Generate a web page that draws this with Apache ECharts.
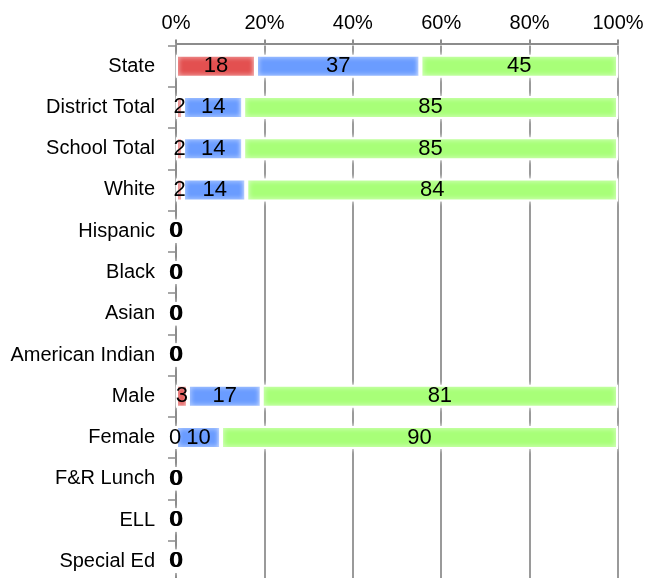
<!DOCTYPE html>
<html>
<head>
<meta charset="utf-8">
<script src="https://cdn.jsdelivr.net/npm/echarts@6/dist/echarts.min.js"></script>
<style>
  html, body { margin: 0; padding: 0; background: #fff; }
  #myChart { width: 646px; height: 578px; }
</style>
</head>
<body>
<div id="myChart"></div>
<script>
// rows, top to bottom
var categories = ['State', 'District Total', 'School Total', 'White', 'Hispanic', 'Black',
                  'Asian', 'American Indian', 'Male', 'Female', 'F&R Lunch', 'ELL', 'Special Ed'];
// percent of students in each band (labels show the rounded value)
var redVals   = [18.1, 1.6, 1.6, 1.6, 0, 0, 0, 0, 2.7, 0, 0, 0, 0];
var blueVals  = [37.2, 13.6, 13.6, 14.3, 0, 0, 0, 0, 16.7, 10.2, 0, 0, 0];
var greenVals = [44.7, 84.8, 84.8, 84.1, 0, 0, 0, 0, 80.6, 89.8, 0, 0, 0];
var xTicks = [0, 20, 40, 60, 80, 100];

var font = 'Liberation Sans, Arial, sans-serif';

function makeSeries(name, vals, color, zeroShift) {
    // zero labels of the three series sit almost on top of each other
    var data = vals.map(function (v) {
        return v === 0 ? { value: v, label: { offset: [zeroShift, 0] } } : v;
    });
    return {
        name: name,
        type: 'bar',
        stack: 'total',
        barWidth: 23,
        data: data,
        itemStyle: {
            color: color,
            borderColor: '#fff',
            borderWidth: 2,
            shadowColor: '#fff',
            shadowBlur: 5
        },
        label: {
            show: true,
            position: 'inside',
            color: '#000',
            fontSize: 22,
            fontFamily: font,
            formatter: function (p) { return Math.round(p.value); }
        },
        emphasis: { disabled: true }
    };
}

var option = {
    animation: false,
    grid: { left: 176, right: 28, top: 45.5, height: 536.5, outerBoundsMode: 'none' },
    xAxis: {
        type: 'value',
        position: 'top',
        offset: 2,
        min: xTicks[0],
        max: xTicks[xTicks.length - 1],
        interval: 20,
        axisLine: { show: true, lineStyle: { color: '#8c8c8c', width: 2 } },
        axisTick: { show: true, length: 4, lineStyle: { color: '#8c8c8c', width: 2 } },
        axisLabel: { formatter: '{value}%', color: '#000', fontSize: 20, fontFamily: font, margin: 10 },
        splitLine: { show: true, lineStyle: { color: '#9a9a9a', width: 2 } }
    },
    yAxis: {
        type: 'category',
        inverse: true,
        data: categories,
        axisLine: { show: true, lineStyle: { color: '#8c8c8c', width: 2 } },
        axisTick: { show: true, length: 8, lineStyle: { color: '#8c8c8c', width: 1.5 } },
        axisLabel: { color: '#000', fontSize: 20, fontFamily: font, margin: 21 }
    },
    series: [
        makeSeries('red', redVals, '#e35050', -1),
        makeSeries('blue', blueVals, '#6a9cff', 0),
        makeSeries('green', greenVals, '#a8ff78', 1)
    ]
};

var myChart = echarts.init(document.getElementById('myChart'));
myChart.setOption(option);
</script>
</body>
</html>
